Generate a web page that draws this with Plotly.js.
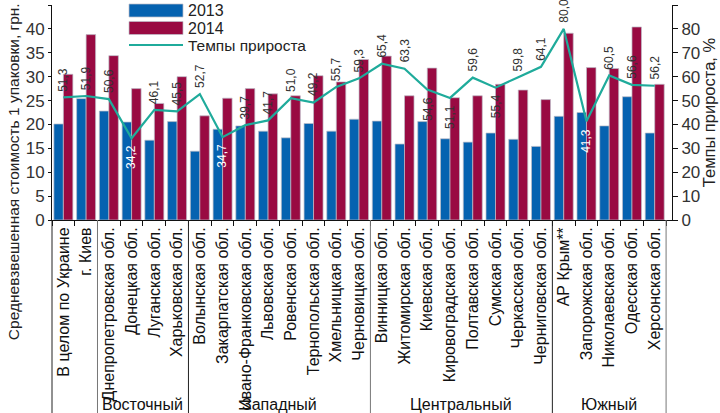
<!DOCTYPE html>
<html><head><meta charset="utf-8">
<script src="https://cdn.plot.ly/plotly-3.0.1.min.js"></script>
<style>html,body{margin:0;padding:0;background:#fff}#chart{width:720px;height:413px}</style>
</head><body><div id="chart"></div>
<script>
const categories = ["В целом по Украине","г. Киев","Днепропетровская обл.","Донецкая обл.","Луганская обл.","Харьковская обл.",
  "Волынская обл.","Закарпатская обл.","Ивано-Франковская обл.","Львовская обл.","Ровенская обл.","Тернопольская обл.",
  "Хмельницкая обл.","Черновицкая обл.","Винницкая обл.","Житомирская обл.","Киевская обл.","Кировоградская обл.",
  "Полтавская обл.","Сумская обл.","Черкасская обл.","Черниговская обл.","АР Крым**","Запорожская обл.",
  "Николаевская обл.","Одесская обл.","Херсонская обл."];
const regions = ["","","Восточный","Восточный","Восточный","Восточный",
  "Западный","Западный","Западный","Западный","Западный","Западный","Западный","Западный",
  "Центральный","Центральный","Центральный","Центральный","Центральный","Центральный","Центральный","Центральный",
  "Южный","Южный","Южный","Южный","Южный"];
const values2013 = [20.1,25.4,22.8,20.5,16.7,20.6,14.4,19.0,19.7,18.6,17.2,20.2,18.6,21.1,20.7,15.9,20.6,17.0,16.3,18.2,16.9,15.4,21.7,22.5,19.7,25.8,18.2];
const values2014 = [30.5,38.8,34.4,27.5,24.4,30.0,21.8,25.5,27.5,26.4,26.0,30.2,28.9,33.6,34.3,26.0,31.8,25.6,26.0,28.4,27.2,25.2,39.1,31.9,31.7,40.4,28.4];
const growthRates = [51.3,51.9,50.6,34.2,46.1,45.5,52.7,34.7,39.7,41.7,51.0,49.2,55.7,59.3,65.4,63.3,54.6,51.1,59.6,55.4,59.8,64.1,80.0,41.3,60.5,56.6,56.2];
const seriesNames = ["2013","2014","Темпы прироста"];
const leftTitle = "Средневзвешенная стоимость 1 упаковки, грн.";
const rightTitle = "Темпы прироста, %";

// label style settings
const labelBelow = [3,7,16,17,19,23];
const labelWhite = [3,7,23];

const FONT = "Liberation Sans, Arial, sans-serif";
const BLUE = "#0562b0", RED = "#990a42", TEAL = "#1fab9b";
const colors = [BLUE, RED, TEAL];

const traces = [
  {type:"bar", name:seriesNames[0], x:categories, y:values2013, marker:{color:BLUE, line:{color:"rgba(190,190,200,0.9)", width:0.8}}},
  {type:"bar", name:seriesNames[1], x:categories, y:values2014, marker:{color:RED, line:{color:"rgba(190,190,200,0.9)", width:0.8}}},
  {type:"scatter", mode:"lines", name:seriesNames[2], x:categories, y:growthRates, yaxis:"y2", line:{color:TEAL, width:2.2}}
];

const annotations = [];
growthRates.forEach((v,i)=>{
  const below = labelBelow.includes(i);
  annotations.push({
    x: categories[i], y: v, xref:"x", yref:"y2", showarrow:false,
    text: v.toFixed(1).replace(".", ","), textangle:-90,
    yanchor: below ? "top" : "bottom", yshift: below ? -5 : 4,
    font:{family:FONT, size:12, color: labelWhite.includes(i) ? "#ffffff" : "#333333"}
  });
});

// region group labels and dividers, built from the regions array
const groups = [];
regions.forEach((r,i)=>{
  if (!groups.length || groups[groups.length-1].name !== r) groups.push({name:r, start:i, end:i});
  else groups[groups.length-1].end = i;
});
const shapes = [];
const divY = -193/215;
groups.forEach((g,gi)=>{
  if (g.name) {
    annotations.push({x:(g.start+g.end)/2, y:divY, xref:"x", yref:"paper", showarrow:false,
      text:g.name, yanchor:"bottom", yshift:-2, font:{family:FONT, size:16, color:"#111"}});
  }
  shapes.push({type:"line", xref:"x", yref:"paper", x0:g.end+0.5, x1:g.end+0.5, y0:0, y1:divY,
    line:{color: gi%2 ? "#222" : "#777", width:1}});
});
shapes.push({type:"line", xref:"paper", yref:"paper", x0:0, x1:0, y0:0, y1:divY, line:{color:"#222", width:1}});

// custom legend (wide swatches as in the original)
const px = v => (v-52)/620, py = v => (220-v)/215;
const legendRows = [10.5, 28, 45];
seriesNames.forEach((name,k)=>{
  const yc = legendRows[k];
  if (k < 2) {
    shapes.push({type:"rect", xref:"paper", yref:"paper", x0:px(129), x1:px(183), y0:py(yc-6.5), y1:py(yc+6.5),
      fillcolor:colors[k], line:{color:"rgba(190,190,200,0.9)", width:0.8}});
  } else {
    shapes.push({type:"line", xref:"paper", yref:"paper", x0:px(129), x1:px(183), y0:py(yc), y1:py(yc),
      line:{color:colors[k], width:2.2}});
  }
  annotations.push({x:px(187), y:py(yc), xref:"paper", yref:"paper", showarrow:false, text:name,
    xanchor:"left", yanchor:"middle", borderpad:0, font:{family:FONT, size: k<2 ? 16 : 15.5, color:"#222"}});
});

annotations.push({x:-0.063, y:1.02, xref:"paper", yref:"paper", showarrow:false, text:leftTitle,
  textangle:-90, xanchor:"center", yanchor:"top", font:{family:FONT, size:15.5, color:"#222"}});

const layout = {
  width:720, height:413,
  margin:{l:52, r:48, t:5, b:193, pad:0},
  paper_bgcolor:"#fff", plot_bgcolor:"#fff",
  font:{family:FONT, color:"#222"},
  barmode:"group", bargap:0.165, bargroupgap:0,
  showlegend:false,
  xaxis:{type:"category", range:[-0.5, 26.76], tickangle:-90, showline:true, linecolor:"#111", linewidth:1,
    ticks:"outside", ticklen:5, tickcolor:"#111", tickson:"boundaries", showgrid:false,
    tickfont:{family:FONT, size:16, color:"#111"}, automargin:false},
  yaxis:{range:[0,45], dtick:5, showline:true, linecolor:"#111", linewidth:1, ticks:"outside", ticklen:3,
    tickcolor:"#111", showgrid:false, zeroline:false, tickfont:{family:FONT, size:17, color:"#333"}, automargin:false},
  yaxis2:{range:[0,90], dtick:10, overlaying:"y", side:"right", showline:true, linecolor:"#111", linewidth:1,
    ticks:"outside", ticklen:5, tickcolor:"#111", showgrid:false, zeroline:false,
    tickfont:{family:FONT, size:17, color:"#333"}, automargin:false,
    title:{text:rightTitle, standoff:4, font:{family:FONT, size:16.5, color:"#222"}}},
  annotations, shapes
};
Plotly.newPlot("chart", traces, layout, {displayModeBar:false, staticPlot:true});
</script></body></html>
